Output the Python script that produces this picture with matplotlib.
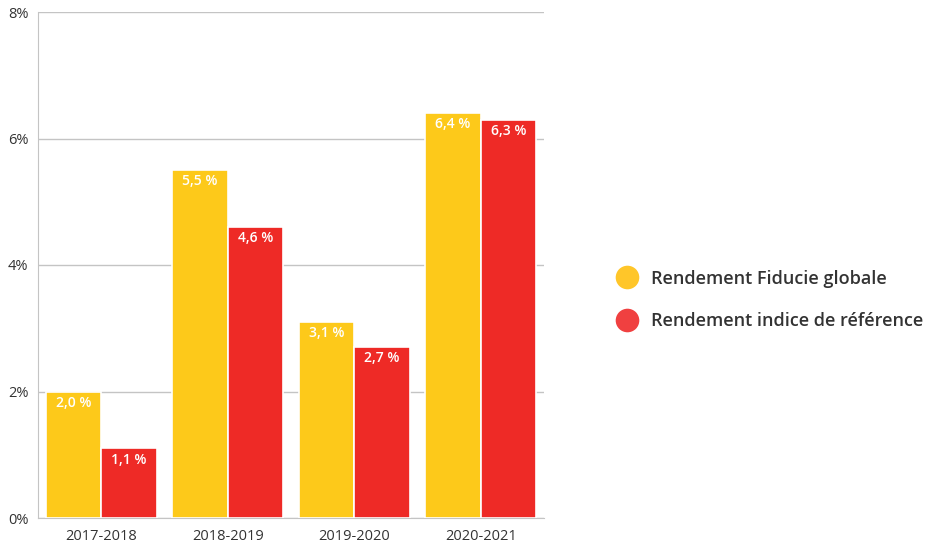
import matplotlib
matplotlib.use("Agg")
import matplotlib.pyplot as plt
from matplotlib.lines import Line2D
import numpy as np

periods = ["2017-2018", "2018-2019", "2019-2020", "2020-2021"]
fiducie = [2.0, 5.5, 3.1, 6.4]
indice = [1.1, 4.6, 2.7, 6.3]
series_names = ["Rendement Fiducie globale", "Rendement indice de référence"]
y_ticks = [0, 2, 4, 6, 8]

yellow = "#FDC91A"
red = "#EE2A26"
grid_col = "#C4C4C4"
text_col = "#333333"

plt.rcParams["font.family"] = ["Open Sans", "DejaVu Sans"]

fig = plt.figure(figsize=(9.25, 5.46), dpi=100)
ax = fig.add_axes([38 / 925, 1 - 518 / 546, 506 / 925, 506 / 546])

x = np.arange(len(periods))
w = 0.44
b1 = ax.bar(x - w / 2, fiducie, width=w, color=yellow, edgecolor="white", linewidth=1.2, zorder=3)
b2 = ax.bar(x + w / 2, indice, width=w, color=red, edgecolor="white", linewidth=1.2, zorder=3)

def fmt(v):
    return f"{v:.1f}".replace(".", ",") + " %"

for bars, vals in ((b1, fiducie), (b2, indice)):
    for rect, v in zip(bars, vals):
        ax.annotate(fmt(v), (rect.get_x() + rect.get_width() / 2, v),
                    xytext=(0, -8), textcoords="offset points",
                    ha="center", va="center", color="white",
                    fontsize=10, fontweight="semibold", zorder=4)

ax.set_xlim(-0.5, len(periods) - 0.5)
ax.set_ylim(0, 8)
ax.set_yticks(y_ticks)
ax.set_yticklabels([f"{t}%" for t in y_ticks])
ax.set_xticks(x)
ax.set_xticklabels(periods)
ax.tick_params(axis="both", length=0, labelsize=10.5, colors=text_col)
ax.tick_params(axis="y", pad=7)
ax.tick_params(axis="x", pad=8)

ax.grid(axis="y", color=grid_col, linewidth=1, zorder=0)
for s in ("top", "right"):
    ax.spines[s].set_visible(False)
ax.spines["left"].set_color(grid_col)
ax.spines["bottom"].set_color(grid_col)

handles = [
    Line2D([], [], marker="o", linestyle="none", markersize=17,
           markerfacecolor="#FFC629", markeredgecolor="none"),
    Line2D([], [], marker="o", linestyle="none", markersize=17,
           markerfacecolor="#F04040", markeredgecolor="none"),
]
fig.legend(handles, series_names, loc="center left",
           bbox_to_anchor=(600 / 925, 1 - 300 / 546), frameon=False,
           prop={"size": 13, "weight": "semibold"}, labelcolor=text_col,
           handletextpad=0.7, labelspacing=1.35, handlelength=1.2)

fig.savefig("out.png", dpi=100)
